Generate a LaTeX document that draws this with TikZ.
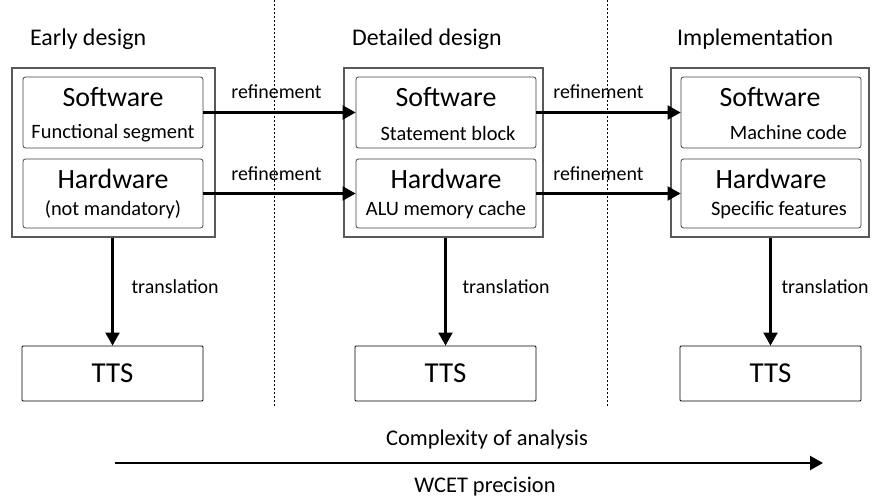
\documentclass[tikz,border=0pt]{standalone}
\usepackage{fontspec}
\setmainfont{Carlito}
\usetikzlibrary{arrows.meta}
\begin{document}
\begin{tikzpicture}[x=1bp,y=-1bp,
  outerbox/.style={draw=black!65, line width=1.3bp},
  innerbox/.style={draw=black!75, line width=0.8bp, rounded corners=2.5bp},
  ttsbox/.style={draw=black, line width=0.8bp, rounded corners=1bp},
  flow/.style={line width=2.1bp, -{Triangle[length=13bp,width=14bp]}},
  divider/.style={line width=0.6bp, dash pattern=on 2bp off 2bp},
  title/.style={font=\fontsize{24}{28}\selectfont, anchor=west},
  main/.style={font=\fontsize{28}{32}\selectfont},
  ttsfont/.style={font=\fontsize{29}{32}\selectfont},
  sub/.style={font=\fontsize{20.5}{24}\selectfont},
  lbl/.style={font=\fontsize{20}{24}\selectfont},
  big/.style={font=\fontsize{22.5}{26}\selectfont}
]
\useasboundingbox (0,0) rectangle (872,498);
% dividers
\coordinate (d1t) at (274,0); \coordinate (d1b) at (274,408);
\coordinate (d2t) at (607,0); \coordinate (d2b) at (607,408);
\draw[divider] (d1t) -- (d1b);
\draw[divider] (d2t) -- (d2b);
% titles
\node[title, inner sep=0] (t1) at (30,39) {Early design};
\node[title, inner sep=0] (t2) at (352,39) {Detailed design};
\node[title, inner sep=0] (t3) at (677,39) {Implementation};
% column 1
\node[outerbox, minimum width=203bp, minimum height=169bp, inner sep=0] (o1) at (113.5,152.5) {};
\node[innerbox, minimum width=180bp, minimum height=71bp, inner sep=0] (s1) at (113,112.5) {};
\node[innerbox, minimum width=180bp, minimum height=69bp, inner sep=0] (h1) at (113,193.5) {};
\node[main] (s1a) at (113,97) {Software};
\node[sub] (s1b) at (113,133) {Functional segment};
\node[main] (h1a) at (113,179) {Hardware};
\node[sub] (h1b) at (113,210) {(not mandatory)};
\node[ttsbox, ttsfont, minimum width=181bp, minimum height=55bp, inner sep=0] (tts1) at (112.5,373.5) {TTS};
% column 2
\node[outerbox, minimum width=199bp, minimum height=169bp, inner sep=0] (o2) at (443.5,152.5) {};
\node[innerbox, minimum width=180bp, minimum height=71bp, inner sep=0] (s2) at (446,112.5) {};
\node[innerbox, minimum width=180bp, minimum height=69bp, inner sep=0] (h2) at (446,193.5) {};
\node[main] (s2a) at (446,97) {Software};
\node[sub] (s2b) at (448,133) {Statement block};
\node[main] (h2a) at (446,179) {Hardware};
\node[sub] (h2b) at (446,210) {ALU memory cache};
\node[ttsbox, ttsfont, minimum width=181bp, minimum height=55bp, inner sep=0] (tts2) at (445.5,373.5) {TTS};
% column 3
\node[outerbox, minimum width=198bp, minimum height=169bp, inner sep=0] (o3) at (770,152.5) {};
\node[innerbox, minimum width=180bp, minimum height=71bp, inner sep=0] (s3) at (771,112.5) {};
\node[innerbox, minimum width=180bp, minimum height=69bp, inner sep=0] (h3) at (771,193.5) {};
\node[main] (s3a) at (770,97) {Software};
\node[sub, anchor=east, inner sep=0] (s3b) at (847,132) {Machine code};
\node[main] (h3a) at (771,179) {Hardware};
\node[sub, anchor=east, inner sep=0] (h3b) at (847,210) {Specific features};
\node[ttsbox, ttsfont, minimum width=181bp, minimum height=55bp, inner sep=0] (tts3) at (770.5,373.5) {TTS};
% refinement arrows
\draw[flow] (s1.east) -- (s2.west) node[lbl, pos=0.48, anchor=base, yshift=14bp, inner sep=0] {refinement};
\draw[flow] (h1.east) -- (h2.west) node[lbl, pos=0.48, anchor=base, yshift=13bp, inner sep=0] {refinement};
\draw[flow] (s2.east) -- (s3.west) node[lbl, pos=0.43, anchor=base, yshift=14bp, inner sep=0] {refinement};
\draw[flow] (h2.east) -- (h3.west) node[lbl, pos=0.43, anchor=base, yshift=13bp, inner sep=0] {refinement};
% translation arrows
\draw[flow] (o1.south -| tts1.north) -- (tts1.north) node[lbl, pos=0.45, anchor=west, xshift=18bp, inner sep=0] {translation};
\draw[flow] (o2.south -| tts2.north) -- (tts2.north) node[lbl, pos=0.45, anchor=west, xshift=16bp, inner sep=0] {translation};
\draw[flow] (o3.south -| tts3.north) -- (tts3.north) node[lbl, pos=0.45, anchor=west, xshift=10bp, inner sep=0] {translation};
% bottom axis
\coordinate (ax1) at (115,463);
\coordinate (ax2) at (823,463);
\draw[flow] (ax1) -- (ax2);
\node[big] (cx) at (487,440) {Complexity of analysis};
\node[big] (wp) at (485,487) {WCET precision};
\end{tikzpicture}
\end{document}
